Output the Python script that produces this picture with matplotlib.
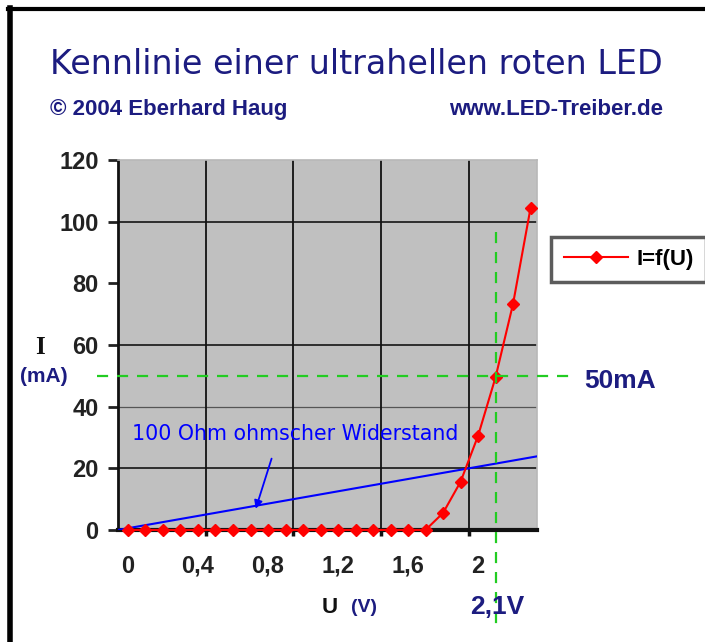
import matplotlib
matplotlib.use("Agg")
import matplotlib.pyplot as plt
from matplotlib.lines import Line2D

plt.rcParams['font.family'] = ['Liberation Sans', 'DejaVu Sans']

# LED measurement, U in V, I in mA
led_u = [0.0, 0.1, 0.2, 0.3, 0.4, 0.5, 0.6, 0.7, 0.8, 0.9, 1.0, 1.1, 1.2,
         1.3, 1.4, 1.5, 1.6, 1.7, 1.8, 1.9, 2.0, 2.1, 2.2, 2.3]
led_i = [0, 0, 0, 0, 0, 0, 0, 0, 0, 0, 0, 0, 0,
         0, 0, 0, 0, 0, 5.5, 15.6, 30.5, 49.5, 73.3, 104.4]

# 100 Ohm resistor line
res_u = [0.0, 2.0, 2.4]
res_i = [0.0, 20.0, 24.0]

# working point
op_u = 2.1
op_i = 50

xtick_vals = [0, 0.4, 0.8, 1.2, 1.6, 2.0]
xtick_labels = ["0", "0,4", "0,8", "1,2", "1,6", "2"]
ytick_vals = [0, 20, 40, 60, 80, 100, 120]
grid_dark = [20, 60, 100]
grid_light = [40]
vgrid = [0.5, 1.0, 1.5, 2.0]

NAVY = "#1c1c80"

fig = plt.figure(figsize=(7.05, 6.42), dpi=100)
ax = fig.add_axes([0.1674, 0.1745, 0.5943, 0.5763])
ax.set_facecolor("#c0c0c0")

# grid of the "true" voltage axis
for g in grid_dark:
    ax.axhline(g, color="#222222", lw=1.3, zorder=1)
for g in grid_light:
    ax.axhline(g, color="#555555", lw=0.9, zorder=1)
for g in vgrid:
    ax.axvline(g, color="#111111", lw=1.3, zorder=1)

ax.plot(res_u, res_i, color="#0000ff", lw=1.5, zorder=3)
ax.set_xlim(0, 2.388)
ax.set_ylim(0, 120)
ax.set_xticks(vgrid)
ax.set_xticklabels([])
ax.tick_params(axis="x", direction="out", length=4, width=2.5, color="#111111")
ax.set_yticks(ytick_vals)
ax.set_yticklabels([str(v) for v in ytick_vals], fontsize=17, fontweight="bold",
                   color="#222222")
ax.tick_params(axis="y", direction="out", length=7, width=2, color="#222222", pad=7)
for side in ["top", "right"]:
    ax.spines[side].set_color("#b8b8b8")
    ax.spines[side].set_linewidth(1.2)
ax.spines["left"].set_color("#111111")
ax.spines["left"].set_linewidth(2)
ax.spines["bottom"].set_color("#111111")
ax.spines["bottom"].set_linewidth(3)

# category-style axis for the LED series (shifted like in Excel)
ax2 = ax.twiny()
ax2.set_xlim(-0.057, 2.337)
ax2.xaxis.set_ticks_position("bottom")
ax2.xaxis.set_label_position("bottom")
for side in ["bottom", "top", "left", "right"]:
    ax2.spines[side].set_visible(False)
ax2.set_xticks(xtick_vals)
ax2.set_xticklabels(xtick_labels, fontsize=17, fontweight="bold", color="#222222")
ax2.tick_params(axis="x", length=0, pad=18)

line_led, = ax2.plot(led_u, led_i, color="#ff0000", lw=1.5, marker="D",
                     markersize=6, zorder=4, clip_on=False)

# working point lines
ax2.plot([-0.177, 2.554], [op_i, op_i], color="#22cc22", lw=1.6,
         ls=(0, (5, 4)), clip_on=False, zorder=5)
ax2.plot([op_u, op_u], [96.7, -30.8], color="#22cc22", lw=1.6,
         ls=(0, (5, 4)), clip_on=False, zorder=5)

# annotation of the resistor line
ax.annotate("", xy=(0.78, 6.0), xytext=(0.88, 24.0),
            arrowprops=dict(arrowstyle="-|>", color="#0000ff", lw=1.3,
                            mutation_scale=12), zorder=6)
ax.text(0.08, 31, "100 Ohm ohmscher Widerstand", color="#0000ff",
        fontsize=14.8, family="DejaVu Sans", va="center", ha="left", zorder=6)

# titles and labels
fig.text(0.505, 0.899, "Kennlinie einer ultrahellen roten LED", color=NAVY,
         fontsize=24, family="DejaVu Sans", ha="center", va="center")
fig.text(0.071, 0.829, "© 2004 Eberhard Haug", color=NAVY, fontsize=16,
         fontweight="bold", ha="left", va="center")
fig.text(0.941, 0.829, "www.LED-Treiber.de", color=NAVY, fontsize=16,
         fontweight="bold", ha="right", va="center")

fig.text(0.057, 0.459, "I", color="#111111", fontsize=18, fontweight="bold",
         family="Liberation Serif", ha="center", va="center")
fig.text(0.062, 0.414, "(mA)", color=NAVY, fontsize=15, fontweight="bold",
         ha="center", va="center")
fig.text(0.468, 0.054, "U", color="#111111", fontsize=16, fontweight="bold",
         ha="center", va="center")
fig.text(0.516, 0.054, "(V)", color=NAVY, fontsize=14, fontweight="bold",
         ha="center", va="center")
fig.text(0.706, 0.054, "2,1V", color=NAVY, fontsize=19, fontweight="bold",
         ha="center", va="center")
fig.text(0.879, 0.406, "50mA", color=NAVY, fontsize=19, fontweight="bold",
         ha="center", va="center")

leg = fig.legend([line_led], ["I=f(U)"], loc="upper left",
                 bbox_to_anchor=(0.782, 0.631), borderaxespad=0, frameon=True,
                 fancybox=False, prop=dict(size=16, weight="bold"),
                 handlelength=2.9, borderpad=0.55, handletextpad=0.4)
leg.get_frame().set_edgecolor("#333333")
leg.get_frame().set_linewidth(2.5)

# outer frame (left and top)
fig.add_artist(Line2D([0.0142, 0.0142], [0.0, 0.987], color="black", lw=4))
fig.add_artist(Line2D([0.011, 1.0], [0.986, 0.986], color="black", lw=3))

fig.savefig("out.png", dpi=100)
